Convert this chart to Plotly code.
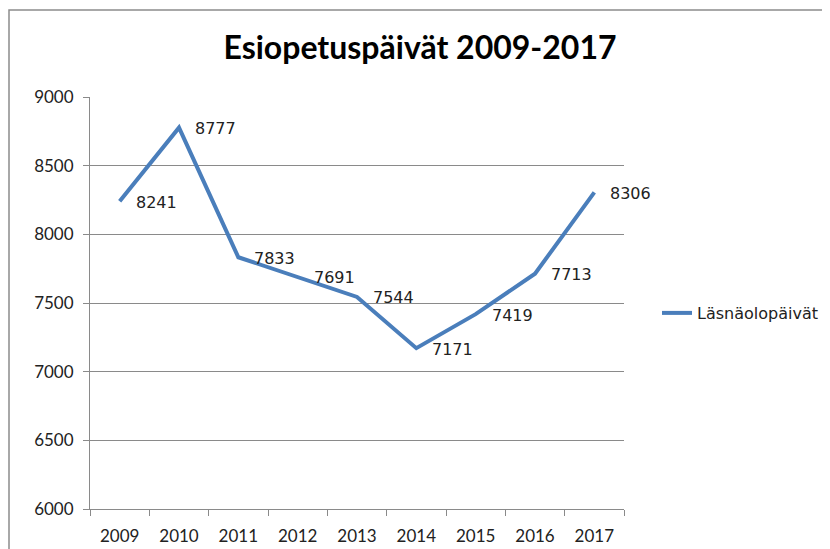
import plotly.graph_objects as go

years = ['2009', '2010', '2011', '2012', '2013', '2014', '2015', '2016', '2017']
days = [8241, 8777, 7833, 7691, 7544, 7171, 7419, 7713, 8306]
y_ticks = [6000, 6500, 7000, 7500, 8000, 8500, 9000]

# page body has an 8px margin, so lay things out in screen pixels minus that
D = 8
W, H = 830 - D, 549 - D
L, R, T, B = 90 - D, 206, 97 - D, 40
pw, ph = W - L - R, H - T - B


def px_x(x):
    # screen pixel -> paper x
    return (x - D - L) / pw


def px_y(y):
    # screen pixel (from top) -> paper y
    return (H - B - (y - D)) / ph


fig = go.Figure()
fig.add_trace(go.Scatter(
    x=years, y=days, mode='lines', name='Läsnäolopäivät',
    line=dict(color='#4a7ebb', width=4),
))

# data labels, to the right of each point (category index as x)
for i, v in enumerate(days):
    fig.add_annotation(x=i, y=v, xref='x', yref='y', text=str(v), showarrow=False,
                       xanchor='left', yanchor='middle', xshift=14, yshift=-1,
                       font=dict(family='DejaVu Sans', size=16, color='#222222'))

fig.update_layout(
    width=W, height=H,
    margin=dict(l=L, r=R, t=T, b=B),
    paper_bgcolor='white', plot_bgcolor='white',
    title=dict(text='<b>Esiopetuspäivät 2009-2017</b>',
               font=dict(family='Lato', size=32, color='black'),
               x=(420 - D) / W, xref='container', xanchor='center',
               y=1 - (48 - D) / H, yref='container', yanchor='middle'),
    showlegend=True,
    legend=dict(x=(657 - D) / W, xref='container',
                y=1 - (313 - D) / H, yref='container',
                xanchor='left', yanchor='middle',
                font=dict(family='DejaVu Sans', size=16, color='#222222'),
                bgcolor='rgba(0,0,0,0)'),
    xaxis=dict(type='category', range=[-0.5, 8.5], automargin=False,
               showline=True, linecolor='#8a8a8a', linewidth=1,
               ticks='outside', tickson='boundaries', ticklen=6, tickcolor='#8a8a8a',
               ticklabelstandoff=12,
               showgrid=False, zeroline=False,
               tickfont=dict(family='Lato', size=17, color='#222222')),
    yaxis=dict(range=[6000, 9000], tickvals=y_ticks, automargin=False,
               showline=True, linecolor='#8a8a8a', linewidth=1,
               ticks='outside', ticklen=6, tickcolor='#8a8a8a',
               ticklabelstandoff=6,
               showgrid=True, gridcolor='#8a8a8a', gridwidth=1, zeroline=False,
               tickfont=dict(family='Lato', size=17, color='#222222')),
)

# outer chart frame
fig.add_shape(type='rect', xref='paper', yref='paper',
              x0=px_x(9), x1=px_x(845), y0=px_y(565), y1=px_y(10),
              line=dict(color='#8c8c8c', width=1.5), layer='below')

fig.write_html("out.html")
